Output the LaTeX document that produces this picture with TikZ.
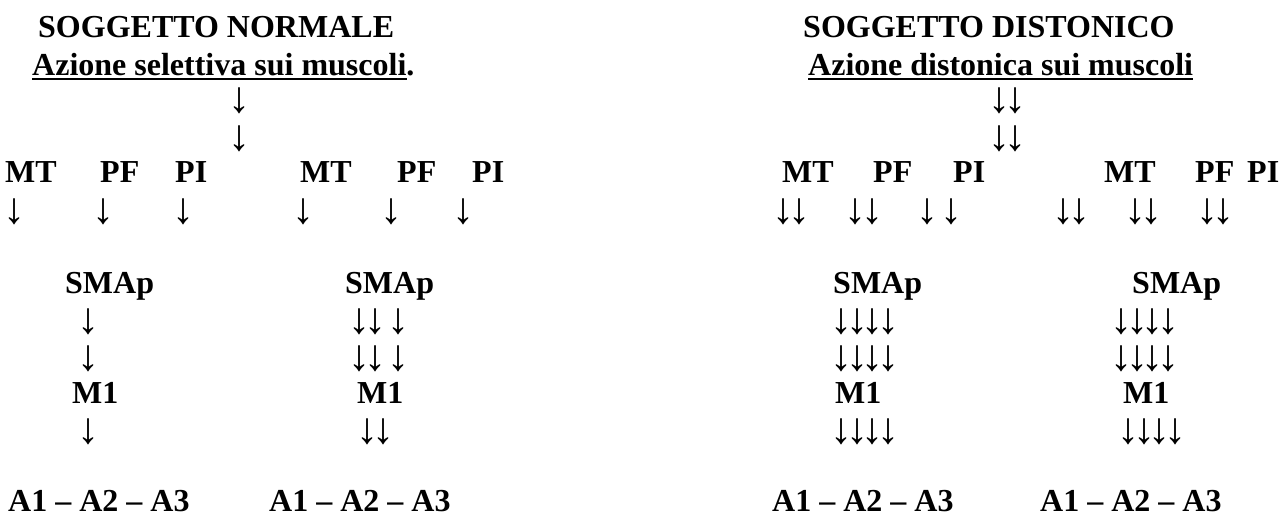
\documentclass[tikz,border=0pt]{standalone}
\usepackage{fontspec}
\setmainfont{Liberation Serif}
\begin{document}
\begin{tikzpicture}[x=1pt,y=-1pt,
  lbl/.style={anchor=base west,inner sep=0pt,font=\fontsize{32}{37}\selectfont\bfseries},
  arr/.style={anchor=center,inner sep=0pt,font=\fontsize{44}{50}\selectfont},
  uline/.style={line width=2pt}]
\path[use as bounding box] (0,0) rectangle (1283,517);

% ---------- left: soggetto normale ----------
\node[lbl] (t1) at (38,37) {SOGGETTO NORMALE};
\node[lbl] (s1) at (32,75) {Azione selettiva sui muscoli.};
\draw[uline] ([yshift=-4pt]s1.base west) -- ([xshift=-8pt,yshift=-4pt]s1.base east);

\node[lbl] (mta) at (5,182) {MT};
\node[lbl] (pfa) at (100,182) {PF};
\node[lbl] (pia) at (175,182) {PI};
\node[lbl] (mtb) at (300,182) {MT};
\node[lbl] (pfb) at (397,182) {PF};
\node[lbl] (pib) at (472,182) {PI};

\node[lbl] (sma) at (65,293) {SMAp};
\node[lbl] (smb) at (345,293) {SMAp};
\node[lbl] (ma) at (72,403) {M1};
\node[lbl] (mb) at (357,403) {M1};
\node[lbl] (aa) at (8,511) {A1 – A2 – A3};
\node[lbl] (ab) at (269,511) {A1 – A2 – A3};

\foreach \x/\y [count=\i] in {239/101, 239/138.5,
  15/211.5, 103/211.5, 183/211.5, 303/211.5, 391/211.5, 463/211.5,
  88/322, 88/358.5, 88/431.5,
  359/322, 375/322, 398/322, 359/358.5, 375/358.5, 398/358.5,
  367/431.5, 383/431.5}
  \node[arr] (la\i) at (\x,\y) {↓};

% ---------- right: soggetto distonico ----------
\node[lbl] (t2) at (803,37) {SOGGETTO DISTONICO};
\node[lbl] (s2) at (808,75) {Azione distonica sui muscoli};
\draw[uline] ([yshift=-4pt]s2.base west) -- ([yshift=-4pt]s2.base east);

\node[lbl] (mtc) at (782,182) {MT};
\node[lbl] (pfc) at (873,182) {PF};
\node[lbl] (pic) at (953,182) {PI};
\node[lbl] (mtd) at (1104,182) {MT};
\node[lbl] (pfd) at (1195,182) {PF};
\node[lbl] (pid) at (1247,182) {PI};

\node[lbl] (smc) at (833,293) {SMAp};
\node[lbl] (smd) at (1132,293) {SMAp};
\node[lbl] (mc) at (835,403) {M1};
\node[lbl] (md) at (1123,403) {M1};
\node[lbl] (ac) at (772,511) {A1 – A2 – A3};
\node[lbl] (ad) at (1040,511) {A1 – A2 – A3};

\foreach \x/\y [count=\i] in {999/101, 1015/101, 999/138.5, 1015/138.5,
  783/211.5, 799/211.5, 855/211.5, 872/211.5, 927/211.5, 951/211.5,
  1063/211.5, 1079/211.5, 1135/211.5, 1151/211.5, 1207/211.5, 1223/211.5,
  841/322, 857/322, 872/322, 888/322, 841/358.5, 857/358.5, 872/358.5, 888/358.5,
  841/431.5, 857/431.5, 872/431.5, 888/431.5,
  1121/322, 1137/322, 1152/322, 1168/322, 1121/358.5, 1137/358.5, 1152/358.5, 1168/358.5,
  1128/431.5, 1144/431.5, 1159/431.5, 1175/431.5}
  \node[arr] (ra\i) at (\x,\y) {↓};
\end{tikzpicture}
\end{document}
